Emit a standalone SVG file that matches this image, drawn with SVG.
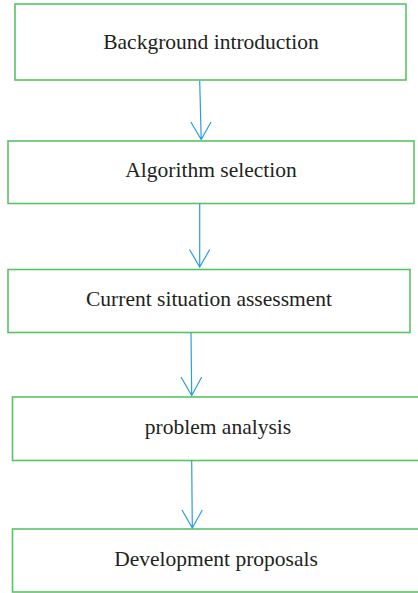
<svg xmlns="http://www.w3.org/2000/svg" width="418" height="593" viewBox="0 0 418 593">
<style>
.box{fill:#fff;stroke:#58c464;stroke-width:1.6}
.lbl{font-family:"Liberation Serif","Times New Roman",serif;font-size:21.5px;fill:#231f20;text-anchor:middle}
.con{stroke:#2a9fd8;stroke-width:1.2;fill:none}
</style>
<rect width="418" height="593" fill="#fff"/>
<g id="n1"><rect class="box" x="15" y="4" width="391" height="76"/><text class="lbl" x="211" y="48.5">Background introduction</text></g>
<g id="n2"><rect class="box" x="8" y="141" width="406" height="62.5"/><text class="lbl" x="211" y="177">Algorithm selection</text></g>
<g id="n3"><rect class="box" x="8" y="269.5" width="402" height="63"/><text class="lbl" x="209" y="306">Current situation assessment</text></g>
<g id="n4"><rect class="box" x="12.5" y="397" width="410" height="63.5"/><text class="lbl" x="218" y="434">problem analysis</text></g>
<g id="n5"><rect class="box" x="12.5" y="529" width="410" height="63"/><text class="lbl" x="216" y="566">Development proposals</text></g>
<g id="connectors">
<path class="con" d="M199.7,80.7 L201.2,139.5 M190.8,122 L201.2,139.5 L211,122"/>
<path class="con" d="M199.7,203.5 L199.7,267 M189.5,249.5 L199.7,267 L209.7,249.5"/>
<path class="con" d="M191,332.5 L191.7,395.5 M181,377 L191.7,395.5 L201.7,377"/>
<path class="con" d="M191.7,460.5 L192.3,528 M182,510 L192.3,528 L202.3,510"/>
</g>
</svg>
